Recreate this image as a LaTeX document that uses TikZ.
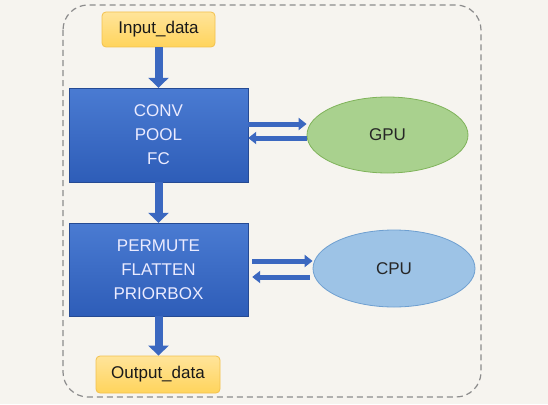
\documentclass[tikz,border=0pt]{standalone}
\usepackage{fontspec}
\setmainfont{Liberation Sans}
\usetikzlibrary{arrows.meta, positioning, shapes.geometric}

\definecolor{bgcol}{HTML}{F6F4EF}
\definecolor{blueTop}{HTML}{4A7BD2}
\definecolor{blueBot}{HTML}{2E5DB8}
\definecolor{arrowcol}{HTML}{3B68C0}
\definecolor{yelTop}{HTML}{FFE49A}
\definecolor{yelBot}{HTML}{FFD45C}
\definecolor{yelLine}{HTML}{F2C14E}
\definecolor{gpuFill}{HTML}{A9D18E}
\definecolor{gpuLine}{HTML}{7FB35A}
\definecolor{cpuFill}{HTML}{9DC3E6}
\definecolor{cpuLine}{HTML}{6E9FD0}

\tikzset{
  databox/.style={draw=yelLine, line width=0.8pt, rounded corners=4pt,
    top color=yelTop, bottom color=yelBot, text=black!90,
    inner sep=0pt, font=\fontsize{17}{20}\selectfont},
  layerbox/.style={draw=blueBot!80!black, line width=0.4pt,
    top color=blueTop, bottom color=blueBot, text=white!92!blue,
    inner sep=0pt, align=center, font=\fontsize{17}{24}\selectfont},
  devnode/.style={ellipse, line width=0.8pt, inner sep=0pt, text=black!85,
    font=\fontsize{17}{20}\selectfont},
  fatarrow/.style={arrowcol, line width=8pt,
    -{Triangle[width=20pt, length=10pt]}},
  sidearrow/.style={arrowcol, line width=5pt,
    -{Triangle[width=12pt, length=8pt]}}
}

\begin{document}
\begin{tikzpicture}[x=1pt, y=-1pt]
      % Background and dashed frame
      \fill[bgcol] (0,0) rectangle (548,404);
      \useasboundingbox (0,0) rectangle (548,404);
      \draw[black!45, line width=1.2pt, dash pattern=on 6pt off 4pt,
        rounded corners=25pt] (63,5) rectangle (481,397);

      % Data boxes
      \node[databox, minimum width=113pt, minimum height=35pt]
        (indata) at (158.5, 29.5) {Input\_data};
      \node[databox, minimum width=124pt, minimum height=37pt]
        (outdata) at (158, 374.5) {Output\_data};

      % Layer boxes
      \node[layerbox, minimum width=179pt, minimum height=94pt]
        (conv) at (158.5, 135) {CONV\\POOL\\FC};
      \node[layerbox, minimum width=179pt, minimum height=93pt]
        (perm) at (158.5, 269.5) {PERMUTE\\FLATTEN\\PRIORBOX};

      % Devices
      \node[devnode, draw=gpuLine, fill=gpuFill,
        minimum width=161pt, minimum height=76pt]
        (gpu) at (387.5, 135) {GPU};
      \node[devnode, draw=cpuLine, fill=cpuFill,
        minimum width=162pt, minimum height=77pt]
        (cpu) at (394, 268.5) {CPU};

      % Main flow
      \draw[fatarrow] (indata.south) -- (conv.north);
      \draw[fatarrow] (conv.south) -- (perm.north);
      \draw[fatarrow] (perm.south) -- (outdata.north -| perm.south);

      % Exchange with GPU
      \draw[sidearrow] ([yshift=11pt]conv.east) -- ([yshift=11pt]conv.east -| gpu.west);
      \draw[sidearrow] ([yshift=-3pt]conv.east -| gpu.west) -- ([yshift=-3pt]conv.east);

      % Exchange with CPU
      \draw[sidearrow] ([xshift=4pt, yshift=8.5pt]perm.east) -- ([yshift=8.5pt]perm.east -| cpu.west);
      \draw[sidearrow] ([xshift=-3pt, yshift=-7.5pt]perm.east -| cpu.west) -- ([xshift=4pt, yshift=-7.5pt]perm.east);

\end{tikzpicture}
\end{document}
